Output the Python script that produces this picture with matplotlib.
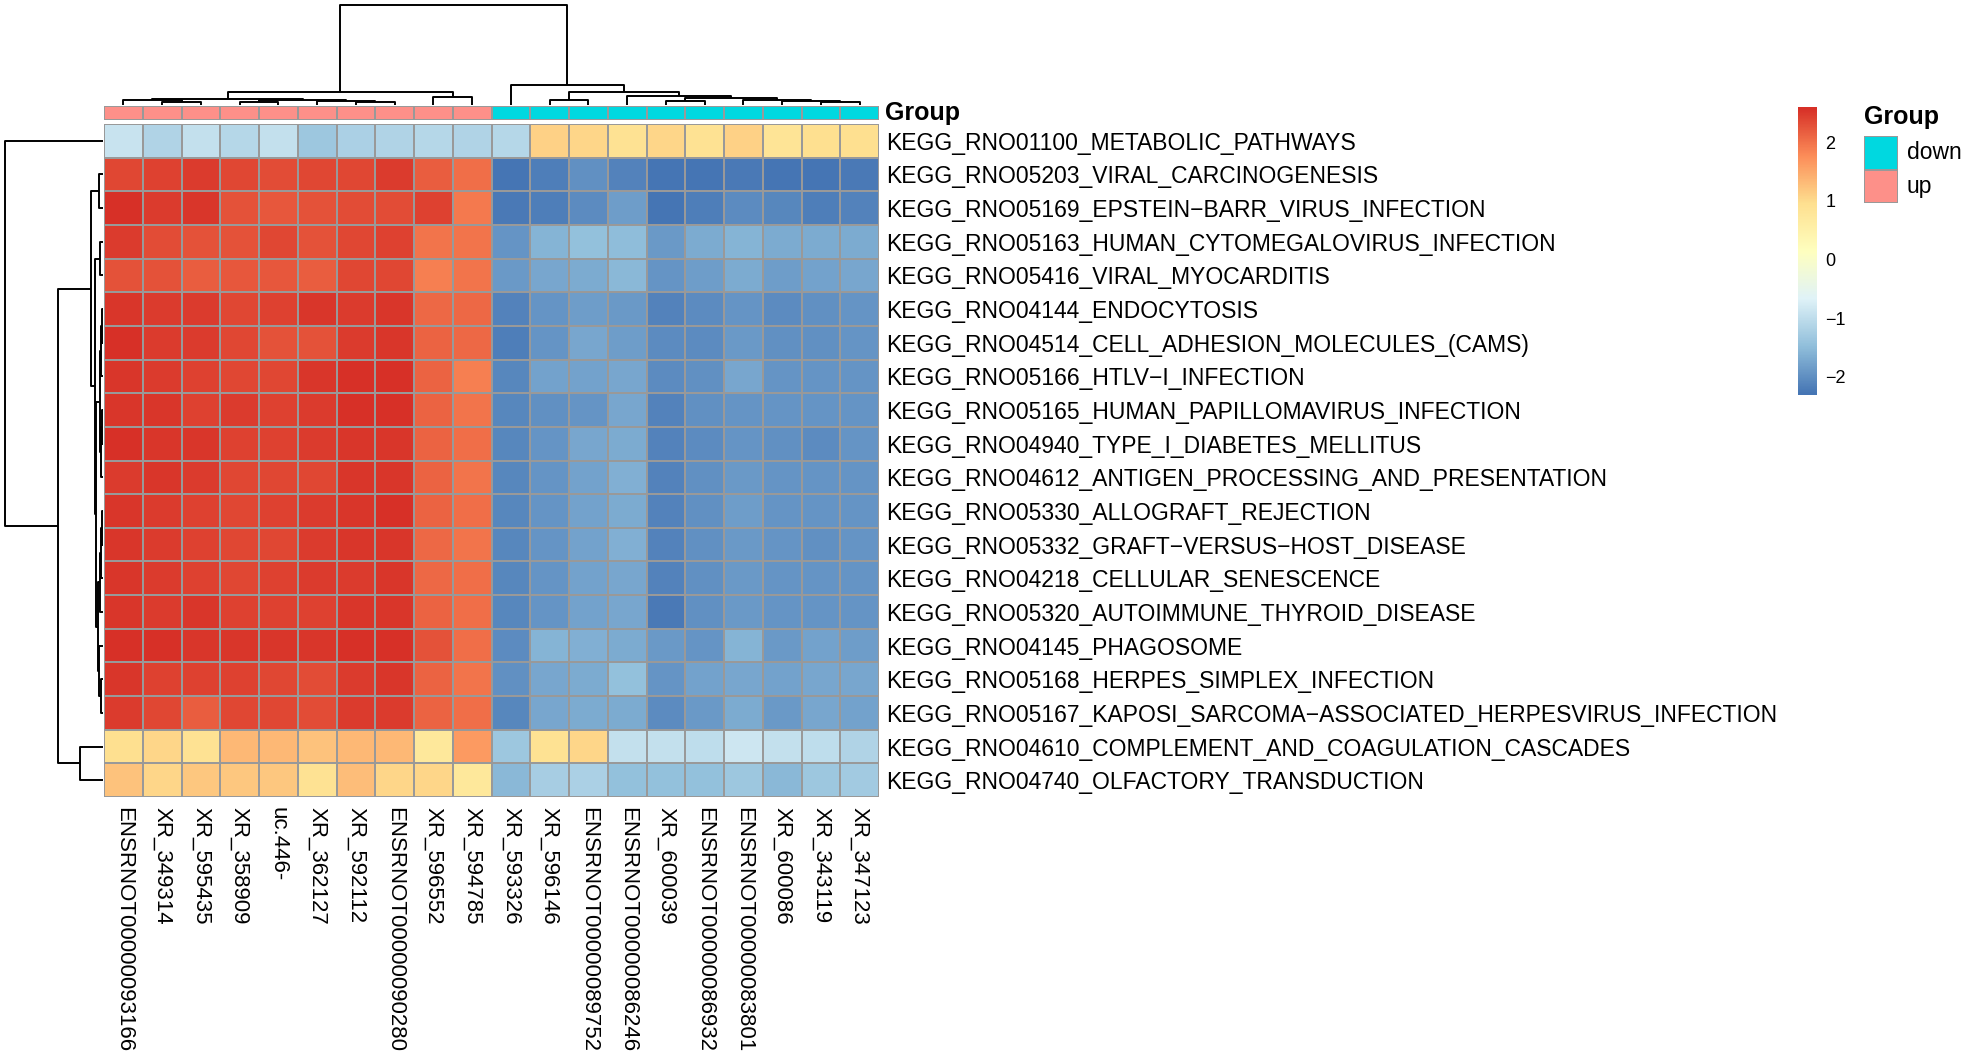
import numpy as np
import matplotlib
matplotlib.use('Agg')
import matplotlib.pyplot as plt
from matplotlib.colors import LinearSegmentedColormap, ListedColormap

plt.rcParams['font.family'] = ['Liberation Sans', 'DejaVu Sans']

# rows and columns in the order shown (already clustered)
row_labels = [
    'KEGG_RNO01100_METABOLIC_PATHWAYS',
    'KEGG_RNO05203_VIRAL_CARCINOGENESIS',
    'KEGG_RNO05169_EPSTEIN\u2212BARR_VIRUS_INFECTION',
    'KEGG_RNO05163_HUMAN_CYTOMEGALOVIRUS_INFECTION',
    'KEGG_RNO05416_VIRAL_MYOCARDITIS',
    'KEGG_RNO04144_ENDOCYTOSIS',
    'KEGG_RNO04514_CELL_ADHESION_MOLECULES_(CAMS)',
    'KEGG_RNO05166_HTLV\u2212I_INFECTION',
    'KEGG_RNO05165_HUMAN_PAPILLOMAVIRUS_INFECTION',
    'KEGG_RNO04940_TYPE_I_DIABETES_MELLITUS',
    'KEGG_RNO04612_ANTIGEN_PROCESSING_AND_PRESENTATION',
    'KEGG_RNO05330_ALLOGRAFT_REJECTION',
    'KEGG_RNO05332_GRAFT\u2212VERSUS\u2212HOST_DISEASE',
    'KEGG_RNO04218_CELLULAR_SENESCENCE',
    'KEGG_RNO05320_AUTOIMMUNE_THYROID_DISEASE',
    'KEGG_RNO04145_PHAGOSOME',
    'KEGG_RNO05168_HERPES_SIMPLEX_INFECTION',
    'KEGG_RNO05167_KAPOSI_SARCOMA\u2212ASSOCIATED_HERPESVIRUS_INFECTION',
    'KEGG_RNO04610_COMPLEMENT_AND_COAGULATION_CASCADES',
    'KEGG_RNO04740_OLFACTORY_TRANSDUCTION',
]
col_labels = ['ENSRNOT00000093166', 'XR_349314', 'XR_595435', 'XR_358909', 'uc.446-',
              'XR_362127', 'XR_592112', 'ENSRNOT00000090280', 'XR_596552', 'XR_594785',
              'XR_593326', 'XR_596146', 'ENSRNOT00000089752', 'ENSRNOT00000086246', 'XR_600039',
              'ENSRNOT00000086932', 'ENSRNOT00000083801', 'XR_600086', 'XR_343119', 'XR_347123']
groups = ['up'] * 10 + ['down'] * 10

values = [
    [-0.93, -1.14, -0.97, -1.13, -0.98, -1.33, -1.20, -1.17, -1.13, -1.15, -1.10, 1.10, 1.03, 0.90, 1.05, 0.92, 1.08, 0.85, 0.95, 0.97],
    [2.40, 2.45, 2.50, 2.40, 2.35, 2.40, 2.38, 2.48, 2.20, 2.05, -2.30, -2.18, -1.98, -2.12, -2.28, -2.31, -2.22, -2.29, -2.30, -2.24],
    [2.60, 2.50, 2.55, 2.28, 2.22, 2.30, 2.32, 2.33, 2.42, 1.95, -2.25, -2.18, -2.03, -1.82, -2.30, -2.20, -2.06, -2.08, -2.19, -2.14],
    [2.50, 2.32, 2.30, 2.28, 2.38, 2.28, 2.38, 2.42, 1.98, 1.98, -1.93, -1.60, -1.47, -1.48, -1.88, -1.72, -1.62, -1.72, -1.68, -1.68],
    [2.30, 2.30, 2.20, 2.25, 2.22, 2.20, 2.38, 2.38, 1.90, 2.00, -1.90, -1.73, -1.68, -1.57, -1.92, -1.84, -1.72, -1.82, -1.80, -1.76],
    [2.52, 2.46, 2.48, 2.36, 2.42, 2.52, 2.48, 2.52, 2.10, 2.10, -2.14, -1.92, -1.85, -1.88, -2.14, -2.04, -1.96, -2.04, -1.98, -1.96],
    [2.56, 2.46, 2.48, 2.37, 2.30, 2.28, 2.48, 2.52, 2.12, 2.10, -2.20, -1.92, -1.76, -1.85, -2.05, -2.06, -1.88, -1.98, -1.98, -1.96],
    [2.52, 2.50, 2.42, 2.38, 2.38, 2.55, 2.58, 2.58, 2.12, 1.88, -2.08, -1.80, -1.78, -1.74, -2.04, -1.98, -1.76, -1.96, -1.92, -1.94],
    [2.52, 2.52, 2.43, 2.50, 2.42, 2.50, 2.58, 2.58, 2.12, 1.98, -2.08, -1.98, -1.92, -1.74, -2.14, -1.98, -1.96, -1.92, -1.94, -1.94],
    [2.60, 2.52, 2.52, 2.43, 2.43, 2.48, 2.55, 2.52, 2.15, 2.02, -2.08, -1.92, -1.76, -1.72, -2.12, -2.04, -1.96, -1.98, -2.04, -1.92],
    [2.50, 2.52, 2.48, 2.37, 2.40, 2.37, 2.52, 2.55, 2.12, 1.98, -2.08, -1.92, -1.78, -1.64, -2.12, -1.98, -1.88, -1.96, -1.96, -1.92],
    [2.52, 2.48, 2.43, 2.38, 2.42, 2.48, 2.52, 2.58, 2.12, 2.02, -2.08, -1.94, -1.78, -1.72, -2.12, -1.98, -1.84, -1.92, -1.96, -1.92],
    [2.55, 2.48, 2.43, 2.38, 2.40, 2.48, 2.52, 2.55, 2.10, 1.98, -2.08, -1.94, -1.78, -1.64, -2.14, -1.98, -1.88, -1.92, -1.98, -1.92],
    [2.55, 2.48, 2.43, 2.38, 2.42, 2.48, 2.48, 2.55, 2.10, 2.02, -2.08, -1.94, -1.78, -1.74, -2.12, -1.98, -1.88, -1.96, -1.92, -1.92],
    [2.55, 2.48, 2.52, 2.43, 2.42, 2.43, 2.52, 2.55, 2.15, 2.02, -2.08, -1.96, -1.78, -1.74, -2.22, -1.98, -1.88, -1.96, -1.92, -1.92],
    [2.60, 2.58, 2.52, 2.55, 2.55, 2.52, 2.60, 2.60, 2.28, 2.05, -2.05, -1.60, -1.64, -1.68, -1.88, -1.96, -1.60, -1.88, -1.78, -1.84],
    [2.55, 2.43, 2.43, 2.42, 2.40, 2.32, 2.48, 2.55, 2.15, 1.98, -1.98, -1.73, -1.68, -1.46, -1.94, -1.80, -1.73, -1.78, -1.74, -1.76],
    [2.50, 2.40, 2.20, 2.40, 2.40, 2.32, 2.48, 2.48, 2.12, 2.05, -2.08, -1.73, -1.72, -1.68, -2.04, -1.88, -1.68, -1.88, -1.76, -1.80],
    [0.96, 1.05, 0.90, 1.33, 1.33, 1.25, 1.33, 1.33, 0.75, 1.65, -1.35, 0.90, 1.05, -0.95, -0.95, -1.00, -0.85, -0.95, -1.00, -1.17],
    [1.25, 1.05, 1.18, 1.18, 1.22, 0.93, 1.30, 1.03, 1.05, 0.78, -1.55, -1.25, -1.20, -1.45, -1.47, -1.45, -1.35, -1.55, -1.35, -1.30],
]

# dendrogram merges (left, right, height), new nodes numbered from 20 on
col_merges = [(1, 2, 3.4), (0, 20, 5.0), (6, 7, 3.4), (5, 22, 4.0), (3, 4, 2.7),
              (24, 23, 4.7), (21, 25, 6.4), (8, 9, 7.7), (26, 27, 13.4),
              (11, 12, 5.0), (14, 15, 4.3), (18, 19, 3.0), (17, 31, 3.7), (16, 32, 4.7),
              (30, 33, 6.7), (13, 34, 9.3), (29, 35, 13.4), (10, 36, 20.7), (28, 37, 101.7)]
row_merges = [(1, 2, 4.4), (3, 4, 3.1), (5, 6, 1.5), (22, 7, 2.0), (8, 9, 1.2),
              (24, 10, 1.8), (23, 25, 2.6), (11, 12, 1.3), (27, 13, 2.2), (28, 14, 3.0),
              (16, 17, 2.5), (15, 30, 3.6), (29, 31, 5.0), (26, 32, 6.9), (21, 33, 8.4),
              (20, 34, 12.5), (18, 19, 23.0), (35, 36, 45.3), (0, 37, 99.4)]

group_colors = {'down': '#00D8E0', 'up': '#FD9089'}

W, H = 1961, 1057
fig = plt.figure(figsize=(W / 100, H / 100), dpi=100)


def px_axes(x0, y0, x1, y1):
    return fig.add_axes([x0 / W, 1 - y1 / H, (x1 - x0) / W, (y1 - y0) / H])


def draw_dendro(ax, merges, n, side):
    pos = {i: i + 0.5 for i in range(n)}
    hgt = {i: 0.0 for i in range(n)}
    for k, (a, b, h) in enumerate(merges):
        xs = [pos[a], pos[a], pos[b], pos[b]]
        ys = [hgt[a], h, h, hgt[b]]
        if side == 'top':
            ax.plot(xs, ys, color='black', lw=1.4, clip_on=False, solid_capstyle='butt')
        else:
            ax.plot(ys, xs, color='black', lw=1.4, clip_on=False, solid_capstyle='butt')
        pos[n + k] = (pos[a] + pos[b]) / 2
        hgt[n + k] = h
    ax.axis('off')


data = np.array(values)
nr, nc = data.shape
vmin, vmax = data.min(), data.max()
cmap = LinearSegmentedColormap.from_list(
    'rdylbu', ['#4575B4', '#91BFDB', '#E0F3F8', '#FFFFBF', '#FEE090', '#FC8D59', '#D73027'], N=100)

# heatmap
ax = px_axes(104, 124, 879, 797)
ax.pcolormesh(data, cmap=cmap, vmin=vmin, vmax=vmax, edgecolors='#999999', linewidth=1.3)
ax.set_xlim(0, nc)
ax.set_ylim(nr, 0)
for s in ax.spines.values():
    s.set_visible(False)
ax.yaxis.tick_right()
ax.set_yticks(np.arange(nr) + 0.5)
ax.set_yticklabels(row_labels, fontsize=16.5)
ax.set_xticks(np.arange(nc) + 0.5)
ax.set_xticklabels(col_labels, fontsize=16, rotation=-90, ha='center', va='top')
ax.tick_params(length=0, pad=5)
ax.tick_params(axis='x', pad=7)

# group annotation bar
ax_a = px_axes(104, 106, 879, 120)
gcmap = ListedColormap([group_colors['up'], group_colors['down']])
gcode = np.array([[0 if g == 'up' else 1 for g in groups]])
ax_a.pcolormesh(gcode, cmap=gcmap, vmin=0, vmax=1, edgecolors='#999999', linewidth=1.3)
ax_a.set_xlim(0, nc)
ax_a.set_ylim(1, 0)
ax_a.axis('off')
ax_a.text(1.008, 0.5, 'Group', transform=ax_a.transAxes, fontsize=18, fontweight='bold',
          va='center', ha='left')

# dendrograms
ax_c = px_axes(104, 5, 879, 105)
draw_dendro(ax_c, col_merges, nc, 'top')
ax_c.set_xlim(0, nc)
ax_c.set_ylim(0, col_merges[-1][2])

ax_r = px_axes(5, 124, 103, 797)
draw_dendro(ax_r, row_merges, nr, 'left')
ax_r.set_ylim(nr, 0)
ax_r.set_xlim(row_merges[-1][2], 0)

# colour key
ax_k = px_axes(1798, 107, 1817, 395)
ramp = np.linspace(vmin, vmax, 100).reshape(-1, 1)
ax_k.imshow(ramp, cmap=cmap, vmin=vmin, vmax=vmax, aspect='auto', origin='lower',
            extent=[0, 1, vmin, vmax])
ax_k.set_ylim(vmin, vmax)
ax_k.set_xticks([])
ax_k.yaxis.tick_right()
ax_k.set_yticks([-2, -1, 0, 1, 2])
ax_k.tick_params(length=0, pad=6, labelsize=13)
for s in ax_k.spines.values():
    s.set_visible(False)

# group legend
ax_l = px_axes(1864, 136, 1898, 203)
ax_l.pcolormesh(np.array([[1], [0]]), cmap=gcmap, vmin=0, vmax=1, edgecolors='#999999', linewidth=1.3)
ax_l.set_ylim(2, 0)
ax_l.axis('off')
for i, g in enumerate(['down', 'up']):
    ax_l.text(1.25, i + 0.5, g, transform=ax_l.get_yaxis_transform(), fontsize=16.5,
              va='center', ha='left')
fig.text(1864 / W, 1 - 117 / H, 'Group', fontsize=18, fontweight='bold', va='center', ha='left')

fig.savefig('out.png', dpi=100)
